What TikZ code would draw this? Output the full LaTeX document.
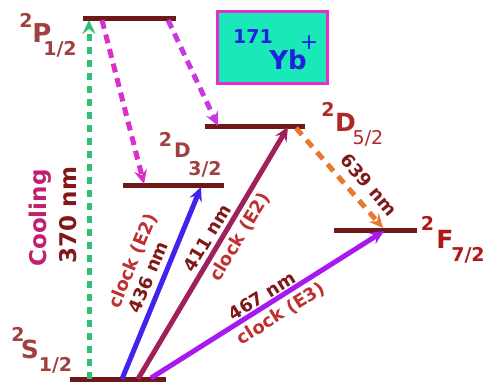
\documentclass[tikz,border=0pt]{standalone}
\usepackage{fontspec}
\setmainfont{DejaVu Sans}
\usetikzlibrary{arrows.meta}
\definecolor{lvlcol}{HTML}{701818}
\definecolor{pcol}{HTML}{A04040}
\definecolor{dfcol}{HTML}{B02828}
\definecolor{fcol}{HTML}{B01818}
\definecolor{greencol}{HTML}{30C070}
\definecolor{magcol}{HTML}{D830C8}
\definecolor{purpcol}{HTML}{C838E0}
\definecolor{orcol}{HTML}{E87830}
\definecolor{bluecol}{HTML}{4422EE}
\definecolor{marcol}{HTML}{A0205A}
\definecolor{viocol}{HTML}{A818F0}
\definecolor{ybfill}{HTML}{1AE8B8}
\definecolor{ybborder}{HTML}{E030D0}
\definecolor{ybtext}{HTML}{2020E0}
\definecolor{coolcol}{HTML}{C02070}
\definecolor{nmcol}{HTML}{801818}
\definecolor{clockcol}{HTML}{C03030}
\newcommand{\fs}[1]{\fontsize{#1}{#1}\selectfont}
\begin{document}
\begin{tikzpicture}[x=1pt,y=-1pt,
  lvl/.style={line width=5pt, draw=lvlcol},
  tipp/.style={-{Stealth[length=14pt,width=13pt,inset=5pt]}},
  dasharrow/.style={tipp, line width=5pt},
  solidarrow/.style={tipp, line width=5pt},
  txt/.style={inner sep=0pt, font=\bfseries},
  lbl/.style={inner sep=0pt, font=\bfseries\fs{18}},
]
\useasboundingbox (0,0) rectangle (489,381);
% levels
\coordinate (Pl) at (83,18); \coordinate (Pr) at (176,18);
\coordinate (D5l) at (205,126); \coordinate (D5r) at (305,126);
\coordinate (D3l) at (123,185); \coordinate (D3r) at (224,185);
\coordinate (Fl) at (334,230); \coordinate (Fr) at (417,230);
\coordinate (Sl) at (70,379); \coordinate (Sr) at (166,379);
\draw[lvl] (Pl) -- (Pr);
\draw[lvl] (D5l) -- (D5r);
\draw[lvl] (D3l) -- (D3r);
\draw[lvl] (Fl) -- (Fr);
\draw[lvl] (Sl) -- (Sr);
% arrow end points
\coordinate (g0) at (89,379); \coordinate (g1) at (89,20);
\coordinate (m0) at (102,20); \coordinate (m1) at (144,184);
\coordinate (q0) at (168,20); \coordinate (q1) at (218,126);
\coordinate (o0) at (296,128); \coordinate (o1) at (383,228);
\coordinate (b0) at (122,379); \coordinate (b1) at (201,187);
\coordinate (r0) at (138,379); \coordinate (r1) at (288,127);
\coordinate (v0) at (151,378); \coordinate (v1) at (384,231);
\draw[dasharrow, draw=greencol, dash pattern=on 7pt off 6pt] (g0) -- (g1);
\draw[dasharrow, draw=magcol, dash pattern=on 9pt off 6pt] (m0) -- (m1);
\draw[dasharrow, draw=purpcol, dash pattern=on 9pt off 6pt] (q0) -- (q1);
\draw[dasharrow, draw=orcol, dash pattern=on 9pt off 7pt] (o0) -- (o1);
\draw[solidarrow, draw=bluecol] (b0) -- (b1);
\draw[solidarrow, draw=marcol] (r0) -- (r1);
\draw[solidarrow, draw=viocol] (v0) -- (v1);
% term labels
\node[txt, text=pcol, font=\bfseries\fs{19}] (P2) at (26,20) {2};
\node[txt, text=pcol, font=\bfseries\fs{26}] (PP) at (42,33.5) {P};
\node[txt, text=pcol, font=\bfseries\fs{19}] (Pj) at (60,49.5) {1/2};
\node[txt, text=pcol, font=\bfseries\fs{19}] (D32) at (165.5,139) {2};
\node[txt, text=pcol, font=\bfseries\fs{20}] (D3D) at (182.5,150) {D};
\node[txt, text=pcol, font=\bfseries\fs{19}] (D3j) at (205,169.5) {3/2};
\node[txt, text=dfcol, font=\bfseries\fs{19}] (D52) at (328,109) {2};
\node[txt, text=dfcol, font=\bfseries\fs{25}] (D5D) at (345.5,122) {D};
\node[txt, text=dfcol, font=\fs{19}] (D5j) at (368,138) {5/2};
\node[txt, text=fcol, font=\bfseries\fs{19}] (F2) at (427.5,223.5) {2};
\node[txt, text=fcol, font=\bfseries\fs{25}] (FF) at (445,239) {F};
\node[txt, text=fcol, font=\bfseries\fs{19}] (Fj) at (468,255) {7/2};
\node[txt, text=pcol, font=\bfseries\fs{19}] (S2) at (18,334.5) {2};
\node[txt, text=pcol, font=\bfseries\fs{25}] (SS) at (30,349) {S};
\node[txt, text=pcol, font=\bfseries\fs{19}] (Sj) at (55.5,365) {1/2};
% Yb box
\node[draw=ybborder, fill=ybfill, line width=2.5pt, minimum width=110pt, minimum height=72pt, inner sep=0pt] (yb) at (272.5,47.5) {};
\node[txt, text=ybtext, font=\bfseries\fs{19}] (y171) at (253,37) {171};
\node[txt, text=ybtext, font=\bfseries\fs{26}] (yYb) at (288,59.5) {Yb};
\node[txt, text=ybtext, font=\fs{22}] (yplus) at (309,43) {+};
% transition labels
\node[inner sep=0pt, font=\bfseries\fs{23}, text=coolcol, rotate=90] (cool) at (40,218) {Cooling};
\node[inner sep=0pt, font=\bfseries\fs{23}, text=nmcol, rotate=90] (n370) at (68,215) {370 nm};
\node[lbl, text=clockcol, rotate=67.5] (c436) at (133,261) {clock (E2)};
\node[lbl, text=nmcol, rotate=67.5] (n436) at (148,277) {436 nm};
\node[lbl, text=nmcol, rotate=59] (n411) at (207,238) {411 nm};
\node[lbl, text=clockcol, rotate=59] (c411) at (240,237) {clock (E2)};
\node[lbl, text=nmcol, rotate=32] (n467) at (262,296) {467 nm};
\node[lbl, text=clockcol, rotate=32] (c467) at (281,314) {clock (E3)};
\node[lbl, text=nmcol, rotate=-49] (n639) at (369,185) {639 nm};
\end{tikzpicture}
\end{document}
